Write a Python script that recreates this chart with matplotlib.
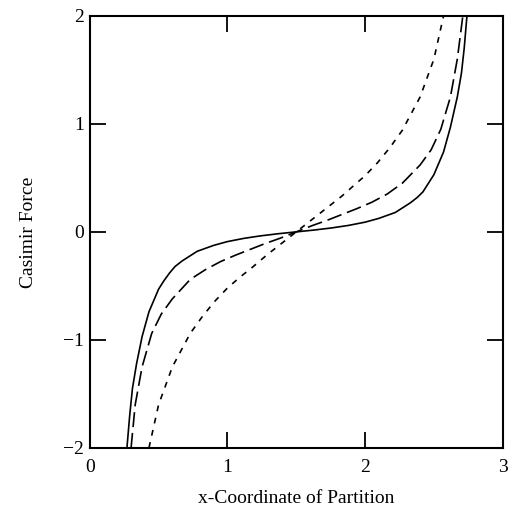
import matplotlib
matplotlib.use('Agg')
import matplotlib.pyplot as plt

# values
solid_x = [0.27, 0.29, 0.31, 0.34, 0.38, 0.43, 0.50, 0.54, 0.58, 0.62, 0.67, 0.78, 0.90, 1.00,
           1.12, 1.24, 1.37, 1.50, 1.63, 1.76, 1.88, 2.00, 2.10, 2.22, 2.33, 2.38, 2.42,
           2.46, 2.50, 2.57, 2.62, 2.67, 2.70, 2.72, 2.74]
solid_y = [-2.0, -1.7, -1.45, -1.22, -0.97, -0.74, -0.53, -0.45, -0.38, -0.32, -0.27, -0.18, -0.125, -0.09,
           -0.06, -0.037, -0.017, 0.0, 0.017, 0.037, 0.06, 0.09, 0.125, 0.18, 0.27, 0.32, 0.37,
           0.45, 0.53, 0.74, 0.97, 1.25, 1.47, 1.7, 2.0]

long_x = [0.30, 0.33, 0.38, 0.45, 0.52, 0.60, 0.73, 0.84, 0.95, 1.06, 1.17, 1.27, 1.38,
          1.50, 1.62, 1.73, 1.83, 1.94, 2.05, 2.16, 2.27, 2.40, 2.48, 2.55, 2.62, 2.67, 2.71]
long_y = [-2.0, -1.6, -1.25, -0.94, -0.76, -0.62, -0.44, -0.35, -0.275, -0.215, -0.16, -0.11, -0.06,
          0.0, 0.06, 0.11, 0.16, 0.215, 0.275, 0.35, 0.45, 0.62, 0.76, 0.95, 1.25, 1.6, 2.0]

short_x = [0.43, 0.50, 0.60, 0.73, 0.82, 0.91, 1.00, 1.09, 1.17, 1.29, 1.40, 1.50,
           1.60, 1.71, 1.83, 1.91, 2.00, 2.09, 2.18, 2.27, 2.40, 2.50, 2.57]
short_y = [-2.0, -1.6, -1.25, -0.94, -0.78, -0.64, -0.52, -0.42, -0.34, -0.21, -0.10, 0.0,
           0.10, 0.21, 0.33, 0.42, 0.52, 0.64, 0.78, 0.94, 1.25, 1.6, 2.0]

xticks = [0, 1, 2, 3]
yticks = [-2, -1, 0, 1, 2]

plt.rcParams['font.family'] = ['Liberation Serif', 'DejaVu Serif']
plt.rcParams['axes.unicode_minus'] = True

fig = plt.figure(figsize=(5.13, 5.13), dpi=100)
ax = fig.add_axes([0.175, 0.127, 0.805, 0.842])

ax.plot(solid_x, solid_y, color='black', lw=1.2, solid_joinstyle='round')
ax.plot(long_x, long_y, color='black', lw=1.2, dashes=(9, 3.5))
ax.plot(short_x, short_y, color='black', lw=1.2, dashes=(3.5, 4))

ax.set_xlim(0, 3)
ax.set_ylim(-2, 2)
ax.set_xticks(xticks)
ax.set_yticks(yticks)
ax.tick_params(direction='in', length=11.5, width=1.3, top=True, right=True,
               labelsize=14)
ax.tick_params(axis='x', pad=8)
ax.tick_params(axis='y', pad=4)
for s in ax.spines.values():
    s.set_linewidth(1.5)

ax.set_xlabel('x-Coordinate of Partition', fontsize=14, labelpad=10)
ax.set_ylabel('Casimir Force', fontsize=14, labelpad=19)

fig.savefig('out.png', dpi=100)
